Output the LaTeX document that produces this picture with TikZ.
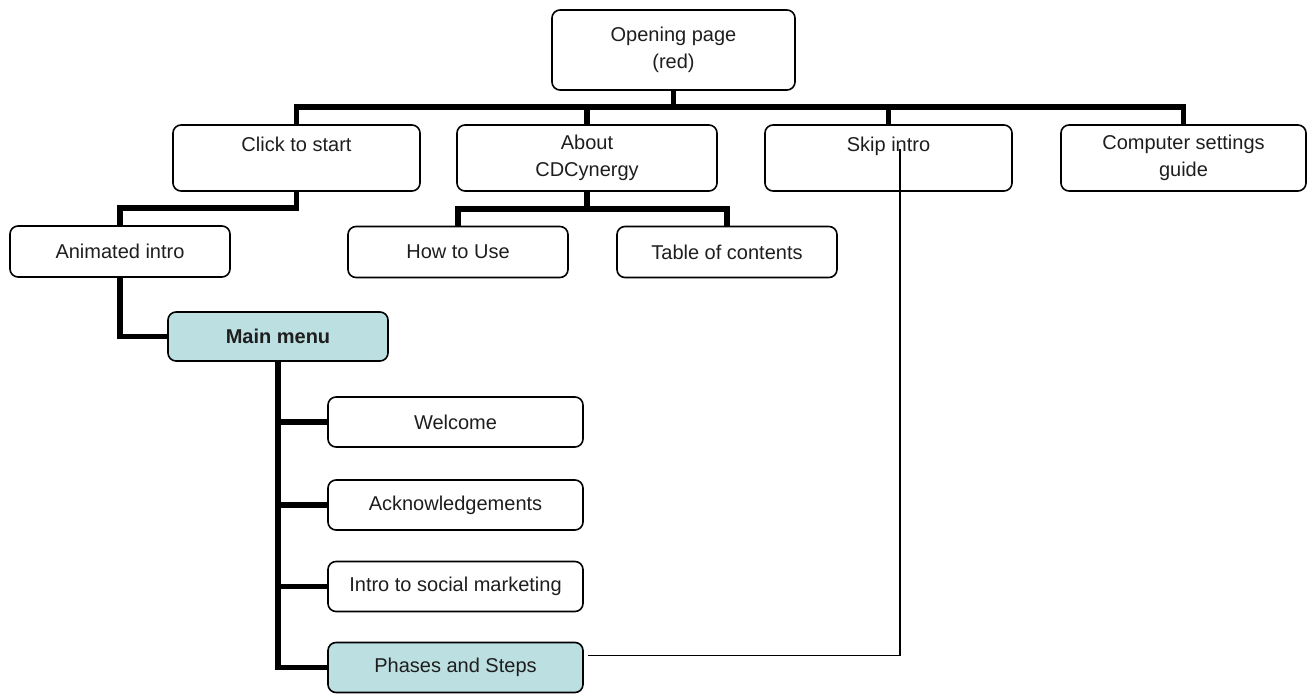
\documentclass[tikz,border=0pt]{standalone}
\usepackage{fontspec}
\setmainfont{Liberation Sans}
\definecolor{menublue}{HTML}{BCDFE2}
\definecolor{inktext}{HTML}{1E1E1E}
\tikzset{
  box/.style={draw,rounded corners=8pt,line width=1.6pt,align=center,
    inner sep=0pt,text=inktext,font=\fontsize{20}{27}\selectfont},
  menubox/.style={box,fill=menublue},
  link/.style={line width=5.5pt,line join=miter},
  jump/.style={line width=1.4pt}
}
\begin{document}
\begin{tikzpicture}[x=1pt,y=-1pt]
      \useasboundingbox (0,0) rectangle (1310,698);

      % Nodes
      \node[box,minimum width=243pt,minimum height=80pt] (open) at (673.5,50) {Opening page\\(red)};

      \begin{scope}[every node/.style={box,minimum height=66pt}]
        \node[minimum width=247pt] (start) at (296.5,158) {Click to start\\\mbox{}};
        \node[minimum width=260pt] (about) at (587,158) {About\\CDCynergy};
        \node[minimum width=247pt] (skip) at (888.5,158) {Skip intro\\\mbox{}};
        \node[minimum width=245pt] (guide) at (1183.5,158) {Computer settings\\guide};
      \end{scope}

      \begin{scope}[every node/.style={box,minimum width=220pt,minimum height=51pt}]
        \node (anim) at (120,251.5) {Animated intro};
        \node (howto) at (458,252) {How to Use};
        \node (toc) at (727,252) {Table of contents};
      \end{scope}

      \node[menubox,minimum width=220pt,minimum height=49pt] (menu) at (278,336.5) {\textbf{Main menu}};

      \begin{scope}[every node/.style={box,minimum width=255pt,minimum height=50pt}]
        \node (welcome) at (455.5,422) {Welcome};
        \node (ack) at (455.5,505) {Acknowledgements};
        \node (social) at (455.5,586.5) {Intro to social marketing};
        \node[menubox] (phases) at (455.5,667.5) {Phases and Steps};
      \end{scope}

      % Edges
      \begin{scope}[link]
        \draw (start.north) -- ++(0,-17) -| (open.south);
        \draw (about.north) -- ++(0,-17) -| (open.south);
        \draw (skip.north) -- ++(0,-17) -| (open.south);
        \draw (guide.north) -- ++(0,-17) -| (open.south);

        \draw (start.south) -- ++(0,16) -| (anim.north);
        \draw (about.south) -- ++(0,17) -| (howto.north);
        \draw (about.south) -- ++(0,17) -| (toc.north);

        \draw (anim.south) |- (menu.west);

        \draw (menu.south) |- (welcome.west);
        \draw (menu.south) |- (ack.west);
        \draw (menu.south) |- (social.west);
        \draw (menu.south) |- (phases.west);
      \end{scope}

      \draw[jump] ([xshift=4pt,yshift=12pt]phases.east) -| ([xshift=11.5pt,yshift=9pt]skip.center);

\end{tikzpicture}
\end{document}
